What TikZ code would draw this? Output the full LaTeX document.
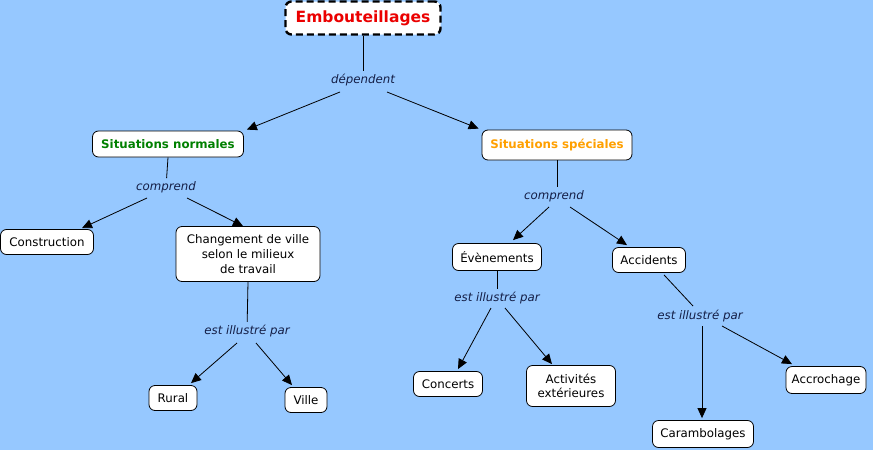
\documentclass[tikz,border=0pt]{standalone}
\usepackage{fontspec}
\setmainfont{DejaVu Sans}
\usetikzlibrary{arrows.meta,calc}
\definecolor{bgblue}{RGB}{150,200,255}
\definecolor{cgreen}{RGB}{0,128,0}
\definecolor{corange}{RGB}{255,160,0}
\definecolor{cred}{RGB}{235,0,0}
\definecolor{lbl}{RGB}{20,30,70}
\begin{document}
\begin{tikzpicture}[x=1pt,y=-1pt,
  concept/.style={draw=black, line width=0.8pt, fill=white, rounded corners=6pt, inner xsep=5pt, inner ysep=5pt, align=center, font=\fontsize{11.8}{15}\selectfont},
  boldc/.style={concept, font=\fontsize{11.8}{13.5}\selectfont\bfseries},
  linklbl/.style={inner sep=3pt, font=\fontsize{11.8}{13.5}\selectfont\itshape, text=lbl},
  conn/.style={line width=0.8pt},
  arr/.style={line width=0.8pt, -{Triangle[length=10pt,width=9pt]}}]
\fill[bgblue] (0,0) rectangle (873,450);
\useasboundingbox (0,0) rectangle (873,450);
% nodes
\node[concept, line width=2.4pt, dash pattern=on 7pt off 4pt, minimum width=155pt, minimum height=33pt, font=\fontsize{15.5}{17}\selectfont\bfseries, text=cred] (emb) at (363,18) {Embouteillages};
\node[linklbl] (dep) at (363,80) {dépendent};
\node[boldc, text=cgreen, minimum width=151pt, minimum height=26pt] (sn) at (168,144) {Situations normales};
\node[boldc, text=corange, minimum width=150pt, minimum height=30pt] (ss) at (557,145) {Situations spéciales};
\node[linklbl] (c1) at (166,187) {comprend};
\node[linklbl] (c2) at (554,196) {comprend};
\node[concept, minimum width=93pt, minimum height=25pt] (cons) at (47,242) {Construction};
\node[concept, minimum width=144pt, minimum height=55pt, inner ysep=2pt] (chg) at (248,254) {Changement de ville\\selon le milieux\\de travail};
\node[linklbl] (e1) at (247,331) {est illustré par};
\node[concept, minimum width=48pt, minimum height=25pt] (rur) at (173,398) {Rural};
\node[concept, minimum width=42pt, minimum height=25pt] (vil) at (306,400) {Ville};
\node[concept, minimum width=89pt, minimum height=27pt] (eve) at (497,257) {Évènements};
\node[concept, minimum width=73pt, minimum height=25pt] (acc) at (649,260) {Accidents};
\node[linklbl] (e2) at (497,298) {est illustré par};
\node[linklbl] (e3) at (700,316) {est illustré par};
\node[concept, minimum width=69pt, minimum height=25pt] (con) at (448,384) {Concerts};
\node[concept, minimum width=89pt, minimum height=41pt, inner ysep=2pt, font=\fontsize{11.8}{14.5}\selectfont] (act) at (571,386) {Activités\\extérieures};
\node[concept, minimum width=101pt, minimum height=27pt] (car) at (703,434) {Carambolages};
\node[concept, minimum width=80pt, minimum height=27pt] (acr) at (826,380) {Accrochage};
% connectors
\draw[conn] (emb) -- (dep);
\draw[arr] ($(dep)+(-23,12)$) -- ($(sn.north east)+(3,-1)$);
\draw[arr] ($(dep)+(24,12)$) -- ($(ss.north west)+(-3,-1)$);
\draw[conn] (sn.south) -- (c1);
\draw[arr] ($(c1)+(-19,11)$) -- ($(cons.north)+(35,-1)$);
\draw[arr] ($(c1)+(21,11)$) -- ($(chg.north)+(-5,0)$);
\draw[conn] (chg.south) -- (e1);
\draw[arr] ($(e1)+(-10,12)$) -- ($(rur.north)+(18,-2)$);
\draw[arr] ($(e1)+(9,12)$) -- ($(vil.north)+(-14,-2)$);
\draw[conn] (ss.south) -- ($(c2.north)+(3,0)$);
\draw[arr] ($(c2)+(-5,11)$) -- ($(eve.north)+(16,-3)$);
\draw[arr] ($(c2)+(16,11)$) -- ($(acc.north)+(-22,-2)$);
\draw[conn] (eve.south) -- (e2);
\draw[arr] ($(e2)+(-6,10)$) -- ($(con.north)+(10,-2)$);
\draw[arr] ($(e2)+(8,10)$) -- ($(act.north)+(-19,-1)$);
\draw[conn] ($(acc.south)+(15,2)$) -- ($(e3)+(-7,-10)$);
\draw[arr] ($(e3)+(2,10)$) -- ($(car.north)+(-1,-2)$);
\draw[arr] ($(e3)+(22,10)$) -- ($(acr.north)+(-34,-2)$);
\end{tikzpicture}
\end{document}
